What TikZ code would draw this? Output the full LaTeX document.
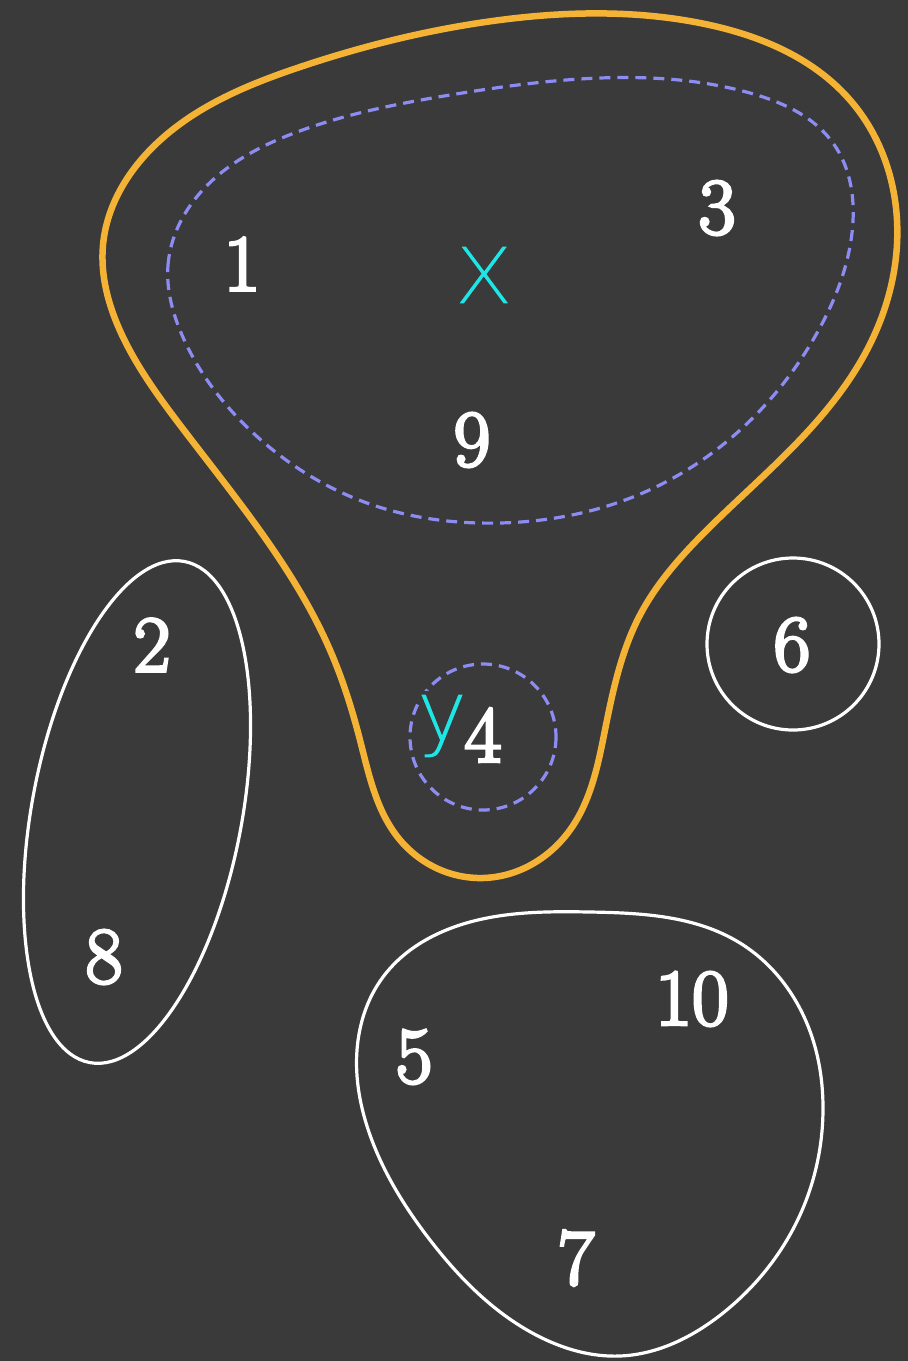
\documentclass[tikz,border=0pt]{standalone}
\usepackage{xcolor}
\usepackage{tikz}
\usetikzlibrary{hobby}
\usepackage{fontspec}
\newfontfamily\handfont{DejaVu Sans}
\definecolor{boardgrey}{HTML}{3A3A3A}
\definecolor{setorange}{HTML}{F5B335}
\definecolor{setblue}{HTML}{8C8CF2}
\definecolor{markcyan}{HTML}{1FE6E6}
% thin a glyph by stroking its outline in board colour
\newcommand{\thinmark}[2]{\special{pdf:literal direct 2 Tr #1 w 0.227 0.227 0.227 RG}#2\special{pdf:literal direct 0 Tr}}
% thicken a glyph a little, chalk style
\newcommand{\chalk}[1]{\special{pdf:literal direct 2 Tr 3 w 1 1 1 RG}#1\special{pdf:literal direct 0 Tr}}

\begin{document}
\begin{tikzpicture}[x=1pt,y=-1pt,
  numlabel/.style={text=white,font=\fontsize{80}{80}\selectfont,inner sep=0pt},
  marklabel/.style={text=markcyan,font=\handfont,inner sep=0pt},
  chalkline/.style={white,line width=3.2pt},
  setline/.style={setorange,line width=6.5pt},
  subline/.style={setblue,line width=3.2pt,dash pattern=on 11pt off 7pt}]
  \fill[boardgrey] (0,0) rectangle (908,1361);
  % big orange set
  \draw[setline] plot[closed hobby] coordinates {
    (103,245) (150,150) (300,67) (500,20) (700,23) (850,100) (897,220)
    (867,350) (793,447) (700,537) (640,615) (605,730) (570,830) (483,878)
    (400,840) (360,740) (330,650) (270,545) (180,425) (122,335)};
  % dashed subsets
  \draw[subline] plot[closed hobby] coordinates {
    (168,265) (200,193) (297,132) (450,95) (600,78) (750,93) (833,143)
    (852,233) (817,333) (720,447) (633,497) (500,523) (367,503) (250,430)
    (182,335)};
  \draw[subline] (483,737) circle[radius=73];
  % white sets
  \draw[chalkline,rotate around={-10.7:(137,812)}] (137,812) ellipse[x radius=105,y radius=255];
  \draw[chalkline] (793,644) circle[radius=86];
  \draw[chalkline] plot[closed hobby] coordinates {
    (590,912) (740,943) (813,1040) (823,1107) (800,1215) (723,1313)
    (620,1356) (540,1337) (430,1240) (370,1135) (357,1050) (383,977)
    (470,922)};
  % elements
  \node[numlabel] (n1) at (242,264) {\chalk{1}};
  \node[numlabel] (n3) at (717,208) {\chalk{3}};
  \node[numlabel] (n9) at (472,440) {\chalk{9}};
  \node[numlabel] (n2) at (152,645) {\chalk{2}};
  \node[numlabel] (n6) at (792,645) {\chalk{6}};
  \node[numlabel] (n4) at (483,735) {\chalk{4}};
  \node[numlabel] (n8) at (104,957) {\chalk{8}};
  \node[numlabel] (n10) at (692,999) {\chalk{10}};
  \node[numlabel] (n5) at (414,1057) {\chalk{5}};
  \node[numlabel] (n7) at (576,1258) {\chalk{7}};
  \node[marklabel] (mx) at (484,275) {\fontsize{115}{115}\selectfont\thinmark{6}{x}};
  \node[marklabel] (my) at (442,726) {\fontsize{88}{88}\selectfont\thinmark{3.5}{y}};
\end{tikzpicture}
\end{document}
